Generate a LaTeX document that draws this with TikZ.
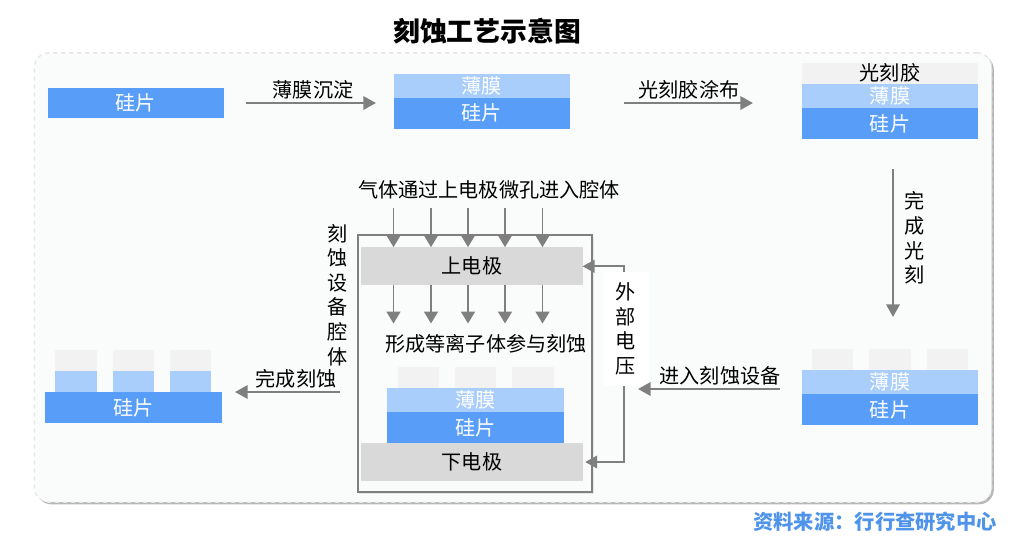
\documentclass[tikz,border=0pt]{standalone}
\usepackage{fontspec}
\setmainfont{Noto Sans CJK SC}
\usepackage{tikz}
\usetikzlibrary{positioning,arrows.meta,shadows}
\definecolor{siblue}{HTML}{589EF8}
\definecolor{filmblue}{HTML}{A9CEFB}
\definecolor{resistgray}{HTML}{F2F2F2}
\definecolor{elecgray}{HTML}{D9D9D9}
\definecolor{flowgray}{HTML}{7F7F7F}
\definecolor{panelbg}{HTML}{FAFBFB}
\definecolor{srcblue}{HTML}{4F94EA}
\tikzset{
  layer/.style={inner sep=0pt, outer sep=0pt, text=white, minimum width=132.4pt, font=\fontsize{15.1pt}{18.4pt}\selectfont},
  wafer/.style={layer, fill=siblue, minimum height=23.2pt},
  film/.style={layer, fill=filmblue, minimum height=18pt},
  resist/.style={inner sep=0pt, outer sep=0pt, fill=resistgray, minimum width=31pt, minimum height=15.8pt},
  filmtab/.style={resist, fill=filmblue},
  electrode/.style={inner sep=0pt, outer sep=0pt, fill=elecgray, minimum width=165.8pt, minimum height=28.7pt},
  lbl/.style={inner sep=0pt, font=\fontsize{15.1pt}{18.4pt}\selectfont},
  vlbl/.style={lbl, align=center},
  flow/.style={draw=flowgray, line width=1.8pt, -{Triangle[length=9.5pt,width=10pt]}},
  gasflow/.style={draw=flowgray, line width=1.2pt, -{Triangle[length=9pt,width=10.5pt]}},
  wire/.style={draw=flowgray, line width=1.4pt, -{Triangle[length=9pt,width=9.5pt]}},
}
\begin{document}
\begin{tikzpicture}[x=0.75pt, y=-0.75pt]
  \useasboundingbox (0,0) rectangle (1034,544);

  \node (title) [lbl, font=\fontsize{20.1pt}{23pt}\selectfont\bfseries] at (487,31) {刻蚀工艺示意图};
  \node (panel) [draw=black!10, dashed, line width=1pt, fill=panelbg, rounded corners=11pt, minimum width=718pt, minimum height=337pt, inner sep=0pt,
    drop shadow={shadow xshift=1.6pt, shadow yshift=-1.6pt, opacity=.4, fill=black!70}] at (513,277.5) {};

  % first row
  \node (si1) [wafer] at (135.8,103) {硅片};
  \node (film2) [film] at (481.8,85.6) {薄膜};
  \node (si2) [wafer, below=0pt of film2] {硅片};
  \node (resist3) [resist, minimum width=132.4pt, minimum height=15.8pt] at (890,73.5) {};
  \node (resist3txt) [lbl] at (890,73) {光刻胶};
  \node (film3) [film, below=0pt of resist3] {薄膜};
  \node (si3) [wafer, below=0pt of film3] {硅片};

  % exposed wafer
  \node (film4) [film] at (890,382) {薄膜};
  \node (si4) [wafer, below=0pt of film4] {硅片};
  \node (tab4b) [resist, above=0pt of film4] {};
  \node (tab4a) [resist, left=12pt of tab4b] {};
  \node (tab4c) [resist, right=12pt of tab4b] {};

  % finished wafer
  \node (si5) [wafer] at (133.4,407.5) {硅片};
  \node (film5b) [filmtab, minimum height=16pt, above=0pt of si5] {};
  \node (film5a) [filmtab, minimum height=16pt, left=12pt of film5b] {};
  \node (film5c) [filmtab, minimum height=16pt, right=12pt of film5b] {};
  \node (tab5a) [resist, above=0pt of film5a] {};
  \node (tab5b) [resist, above=0pt of film5b] {};
  \node (tab5c) [resist, above=0pt of film5c] {};

  % chamber
  \node (chamber) [draw=flowgray, line width=1.5pt, fill=panelbg, minimum width=176pt, minimum height=192.5pt, inner sep=0pt,
    drop shadow={shadow xshift=1.2pt, shadow yshift=-1.2pt, opacity=.08, fill=black}] at (475,363.8) {};
  \node (upper) [electrode, lbl] at (472,266.3) {上电极};
  \node (lower) [electrode, lbl] at (472,462) {下电极};
  \node (si6) [wafer, above=0pt of lower, xshift=2.7pt] {硅片};
  \node (film6) [film, above=0pt of si6] {薄膜};
  \node (tab6b) [resist, above=0pt of film6] {};
  \node (tab6a) [resist, left=12pt of tab6b] {};
  \node (tab6c) [resist, right=12pt of tab6b] {};

  \node (gastxt) [lbl] at (489,190) {气体通过上电极微孔进入腔体};
  \node (plasmatxt) [lbl] at (486,344) {形成等离子体参与刻蚀};
  \node (chambertxt) [vlbl] at (338,295) {刻\\蚀\\设\\备\\腔\\体};

  \foreach \i/\x in {1/393.5,2/431,3/468,4/505,5/542.5} {
    \coordinate (gas\i) at (\x,208);
    \coordinate (ion\i) at (\x,323.5);
    \draw[gasflow] (gas\i) -- (gas\i |- upper.north);
    \draw[gasflow] (gas\i |- upper.south) -- (ion\i);
  }

  % voltage
  \node (volt) [vlbl, fill=white, minimum width=35pt, minimum height=85.5pt] at (626,329) {外\\部\\电\\压};
  \coordinate (voltx) at (624,272);
  \draw[wire] (voltx |- volt.north) |- (upper.east);
  \draw[wire] (voltx |- volt.south) |- ([xshift=2pt]lower.east);

  % process steps
  \coordinate (a1) at (246,103);
  \coordinate (b1) at (376,103);
  \coordinate (a2) at (624,103);
  \coordinate (b2) at (753,103);
  \coordinate (a3) at (893,169);
  \coordinate (b3) at (893,317);
  \coordinate (a4) at (780,389);
  \coordinate (b4) at (638,389);
  \coordinate (a5) at (340,392);
  \coordinate (b5) at (235,392);
  \draw[flow] (a1) -- (b1);
  \draw[flow] (a2) -- (b2);
  \draw[flow] (a3) -- (b3);
  \draw[flow] (a4) -- (b4);
  \draw[flow] (a5) -- (b5);
  \node (step1) [lbl] at (313,90) {薄膜沉淀};
  \node (step2) [lbl] at (689,90) {光刻胶涂布};
  \node (step3) [vlbl] at (915,238) {完\\成\\光\\刻};
  \node (step4) [lbl] at (720,376) {进入刻蚀设备};
  \node (step5) [lbl] at (296,379) {完成刻蚀};

  \node (source) [lbl, text=srcblue, font=\fontsize{15.2pt}{18pt}\selectfont\bfseries] at (875,522) {资料来源：行行查研究中心};
\end{tikzpicture}
\end{document}
